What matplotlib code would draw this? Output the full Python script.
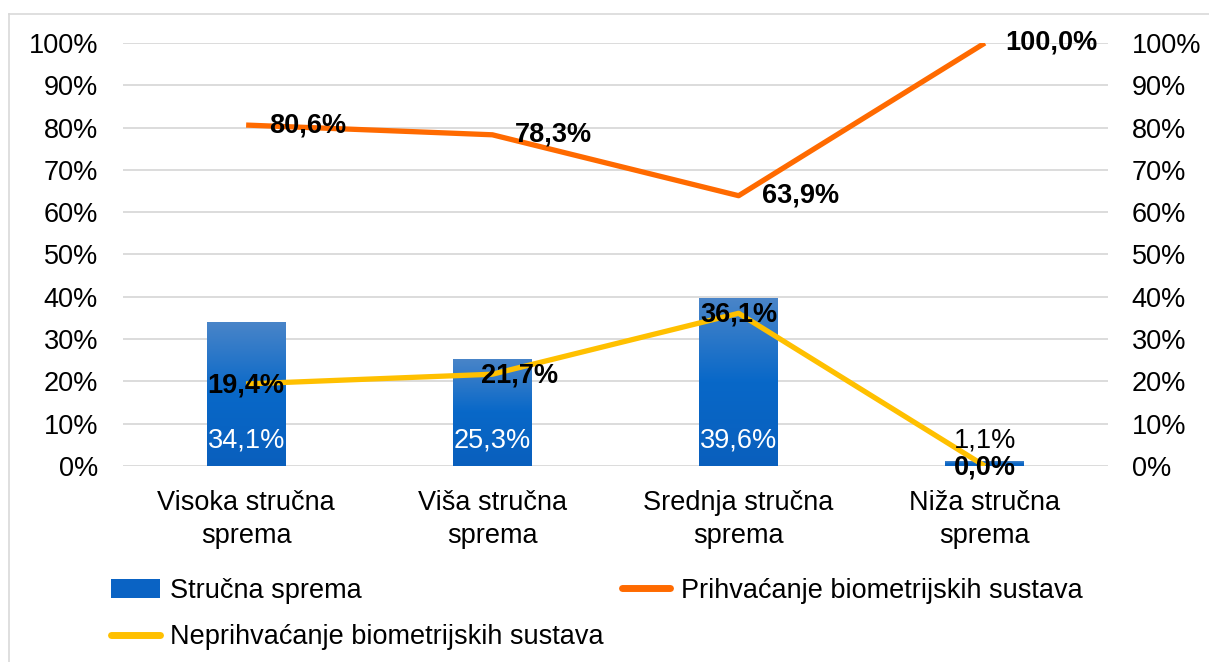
import numpy as np
import matplotlib.pyplot as plt
from matplotlib.colors import LinearSegmentedColormap
from matplotlib.patches import Patch
from matplotlib.lines import Line2D

categories = ["Visoka stručna\nsprema", "Viša stručna\nsprema",
              "Srednja stručna\nsprema", "Niža stručna\nsprema"]
strucna = [34.1, 25.3, 39.6, 1.1]
prihvacanje = [80.6, 78.3, 63.9, 100.0]
neprihvacanje = [19.4, 21.7, 36.1, 0.0]

plt.rcParams['font.family'] = ['Liberation Sans', 'DejaVu Sans']
FS = 19.5
ORANGE = "#ff6a00"
YELLOW = "#ffc000"

fig = plt.figure(figsize=(12.09, 6.62), dpi=100)
ax = fig.add_axes([123 / 1209, 1 - 466 / 662, 985 / 1209, 423 / 662])

x = np.arange(len(categories))
w = 0.32
bars = ax.bar(x, strucna, width=w, color="#0a63c4", zorder=2)

# gradient fill on bars
cmap = LinearSegmentedColormap.from_list("g", ["#0a5fbd", "#0868c8", "#4a85c9"])
grad = np.linspace(0, 1, 256).reshape(-1, 1)
for b in bars:
    x0, y0 = b.get_x(), b.get_y()
    im = ax.imshow(grad, cmap=cmap, aspect="auto", origin="lower",
                   extent=[x0, x0 + b.get_width(), y0, y0 + b.get_height()],
                   zorder=2.1)
    im.set_clip_path(b)

ax.plot(x, prihvacanje, color=ORANGE, lw=3.8, zorder=3, solid_capstyle="butt")
ax.plot(x, neprihvacanje, color=YELLOW, lw=3.8, zorder=3, solid_capstyle="butt")

for i, v in enumerate(strucna):
    col = "white" if v > 5 else "black"
    ax.text(x[i], 6, f"{v:.1f}%".replace(".", ","), ha="center", va="center",
            color=col, fontsize=FS, zorder=5)

for i, v in enumerate(prihvacanje):
    dx = 0.27 if v >= 100 else 0.25
    ax.text(x[i] + dx, v, f"{v:.1f}%".replace(".", ","), ha="center",
            va="center", fontsize=FS, fontweight="bold", zorder=5)

xoff = [0, 0.11, 0, 0]
for i, v in enumerate(neprihvacanje):
    ax.text(x[i] + xoff[i], v - 0.3, f"{v:.1f}%".replace(".", ","), ha="center",
            va="center", fontsize=FS, fontweight="bold", zorder=5)

ax.set_xlim(-0.5, 3.5)
ax.set_ylim(0, 100)
ticks = np.arange(0, 101, 10)
ax.set_yticks(ticks)
ax.set_yticklabels([f"{t}%" for t in ticks], fontsize=FS)
ax.set_xticks(x)
ax.set_xticklabels(categories, fontsize=FS, linespacing=1.35)
ax.tick_params(axis="y", length=0, pad=18)
ax.tick_params(axis="x", length=0, pad=17)
ax.grid(axis="y", color="#d9d9d9", lw=1.3, zorder=0)
ax.set_axisbelow(True)
for s in ax.spines.values():
    s.set_visible(False)

ax2 = ax.twinx()
ax2.set_ylim(0, 100)
ax2.set_yticks(ticks)
ax2.set_yticklabels([f"{t}%" for t in ticks], fontsize=FS)
ax2.tick_params(length=0, pad=17)
for s in ax2.spines.values():
    s.set_visible(False)

handles = [Patch(facecolor="#0a63c4"),
           Line2D([], [], color=YELLOW, lw=5, solid_capstyle="round"),
           Line2D([], [], color=ORANGE, lw=5, solid_capstyle="round")]
labels = ["Stručna sprema", "Neprihvaćanje biometrijskih sustava",
          "Prihvaćanje biometrijskih sustava"]
fig.legend(handles, labels, ncol=2, loc="upper left",
           bbox_to_anchor=(100 / 1209, 1 - 567 / 662), frameon=False,
           fontsize=FS, handlelength=1.8, handletextpad=0.4,
           columnspacing=0.65, labelspacing=0.75, borderaxespad=0)

# chart border (top and left visible)
fig.add_artist(Line2D([9 / 1209, 1], [1 - 14 / 662] * 2, color="#d9d9d9",
                      lw=1.2, transform=fig.transFigure))
fig.add_artist(Line2D([9 / 1209] * 2, [0, 1 - 14 / 662], color="#d9d9d9",
                      lw=1.2, transform=fig.transFigure))

fig.savefig("out.png", dpi=100)
